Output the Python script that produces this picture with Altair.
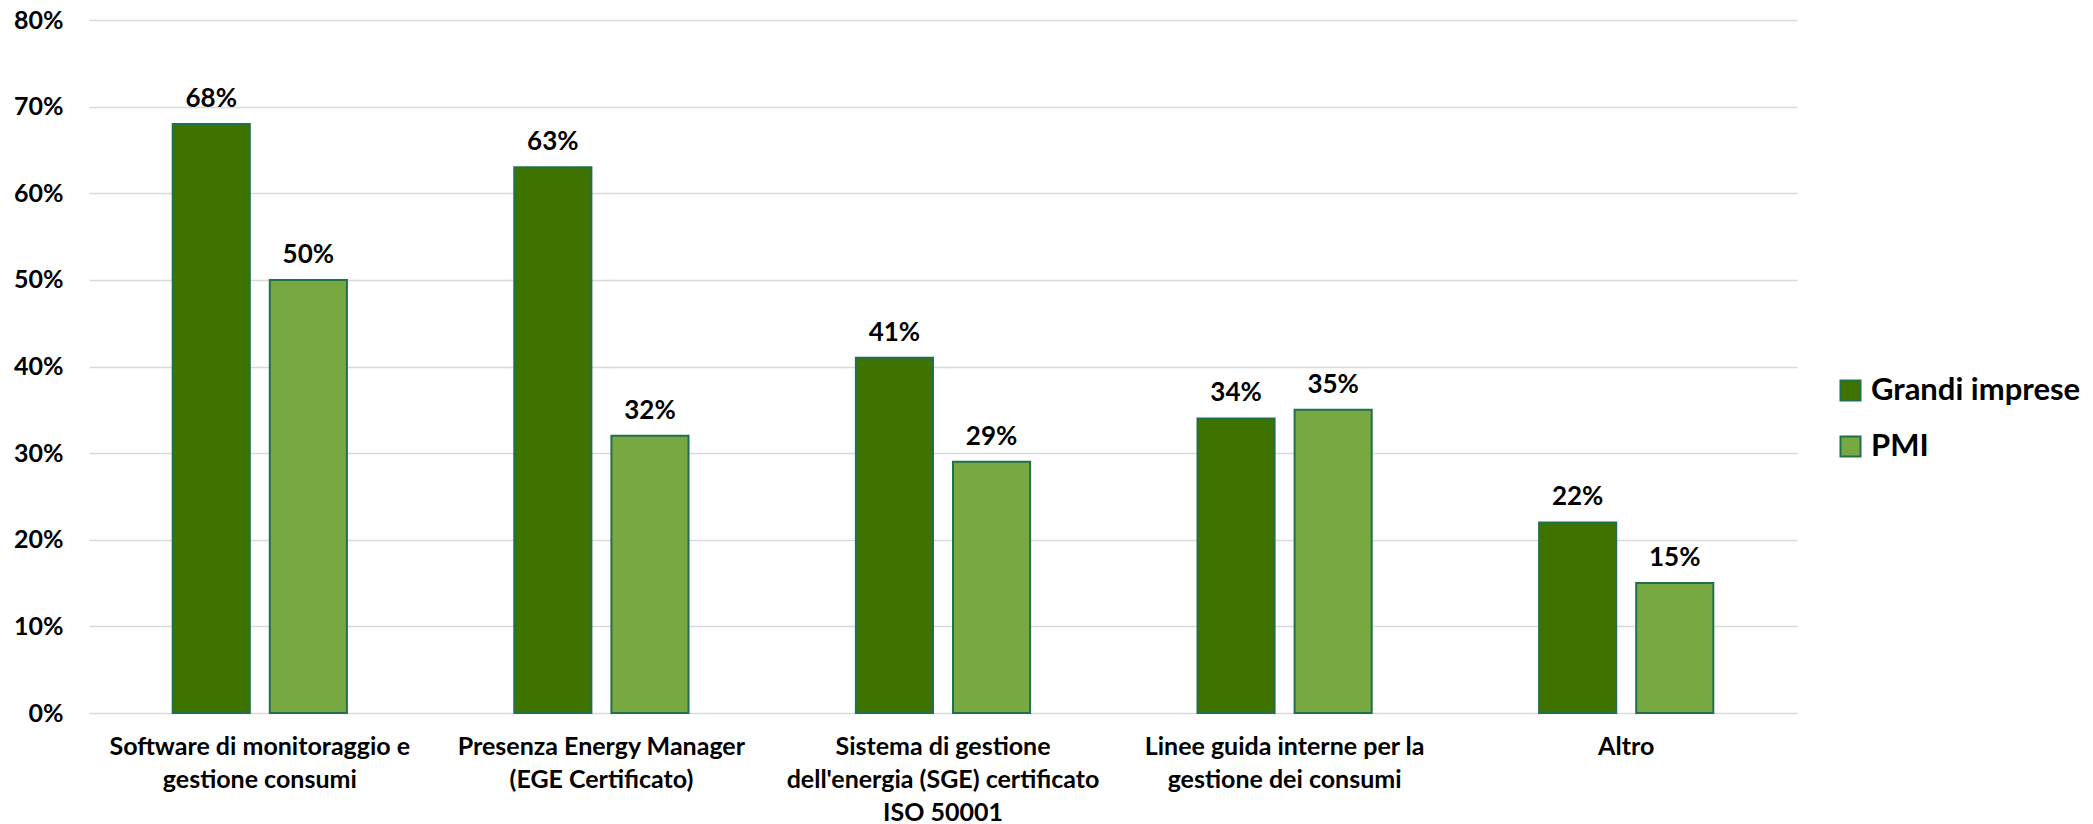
import altair as alt
import pandas as pd

categories = [
    "Software di monitoraggio e|gestione consumi",
    "Presenza Energy Manager|(EGE Certificato)",
    "Sistema di gestione|dell'energia (SGE) certificato|ISO 50001",
    "Linee guida interne per la|gestione dei consumi",
    "Altro",
]
series = ["Grandi imprese", "PMI"]
grandi = [68, 63, 41, 34, 22]
pmi = [50, 32, 29, 35, 15]
y_ticks = [0, 0.1, 0.2, 0.3, 0.4, 0.5, 0.6, 0.7, 0.8]
colors = ["#3F7300", "#78A842"]
stroke_color = "#21704C"
FONT = "Lato"

rows = []
for c, g, p in zip(categories, grandi, pmi):
    rows.append({"cat": c, "series": series[0], "value": g / 100})
    rows.append({"cat": c, "series": series[1], "value": p / 100})
df = pd.DataFrame(rows)

base = alt.Chart(df).encode(
    x=alt.X(
        "cat:N",
        sort=categories,
        scale=alt.Scale(paddingInner=0.49, paddingOuter=0.245),
        axis=alt.Axis(
            title=None,
            labelAngle=0,
            labelExpr="split(datum.label, '|')",
            labelFont=FONT,
            labelFontSize=25,
            labelFontWeight="bold",
            labelColor="#000000",
            labelPadding=21,
            labelLineHeight=33,
            labelBaseline="top",
            domain=False,
            ticks=False,
            labelLimit=0,
        ),
    ),
    xOffset=alt.XOffset("series:N", sort=series, scale=alt.Scale(paddingInner=0.206, paddingOuter=0)),
    y=alt.Y(
        "value:Q",
        scale=alt.Scale(domain=[0, 0.8], nice=False),
        axis=alt.Axis(
            title=None,
            values=y_ticks,
            format=".0%",
            labelFont=FONT,
            labelFontSize=25,
            labelFontWeight="bold",
            labelColor="#000000",
            labelPadding=26,
            domain=False,
            ticks=False,
            gridColor="#D9D9D9",
            gridWidth=1.5,
        ),
    ),
)

bars = base.mark_bar(stroke=stroke_color, strokeWidth=2).encode(
    color=alt.Color(
        "series:N",
        sort=series,
        scale=alt.Scale(domain=series, range=colors),
        legend=alt.Legend(
            title=None,
            orient="none",
            legendX=1746,
            legendY=355,
            symbolType="square",
            symbolSize=400,
            symbolStrokeColor=stroke_color,
            symbolStrokeWidth=2,
            symbolOpacity=1,
            labelFont=FONT,
            labelFontSize=31,
            labelFontWeight="bold",
            labelColor="#000000",
            labelOffset=5,
            labelLimit=0,
            rowPadding=24,
        ),
    )
)

labels = base.mark_text(
    dy=-17, baseline="alphabetic", font=FONT, fontSize=26, fontWeight="bold", color="#000000"
).encode(text=alt.Text("value:Q", format=".0%"))

chart = (
    alt.layer(bars, labels)
    .properties(
        width=1708,
        height=693,
        autosize=alt.AutoSizeParams(type="none"),
        padding={"left": 89, "top": 20, "right": 296, "bottom": 111},
        background="#FFFFFF",
    )
    .configure_view(stroke=None)
)

chart.save("out.html", embed_options={"renderer": "svg", "actions": False})
